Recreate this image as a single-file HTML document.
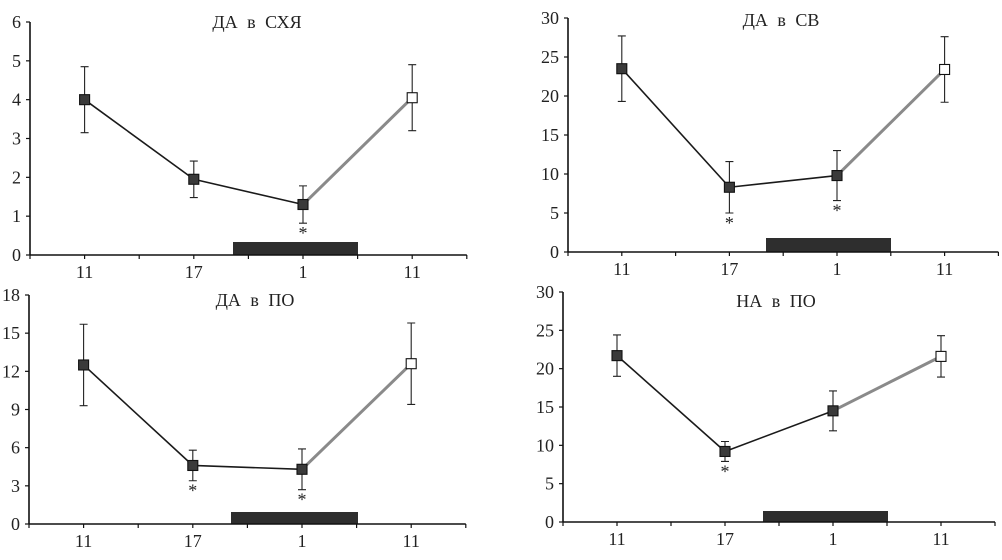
<!DOCTYPE html>
<html><head><meta charset="utf-8"><style>
body{margin:0;background:#fff;}
svg{display:block;font-family:"Liberation Serif","DejaVu Serif",serif;}
</style></head><body>
<svg id="c" width="1002" height="560"></svg>
<script>
const categories = ["11","17","1","11"];
const p1Values = [4.0, 1.95, 1.3, 4.05];
const p1Errors = [0.85, 0.47, 0.48, 0.85];
const p1Stars = [false, false, true, false];
const p1Ticks = [0,1,2,3,4,5,6];
const p2Values = [23.5, 8.3, 9.8, 23.4];
const p2Errors = [4.2, 3.3, 3.2, 4.2];
const p2Stars = [false, true, true, false];
const p2Ticks = [0,5,10,15,20,25,30];
const p3Values = [12.5, 4.6, 4.3, 12.6];
const p3Errors = [3.2, 1.2, 1.6, 3.2];
const p3Stars = [false, true, true, false];
const p3Ticks = [0,3,6,9,12,15,18];
const p4Values = [21.7, 9.2, 14.5, 21.6];
const p4Errors = [2.7, 1.3, 2.6, 2.7];
const p4Stars = [false, true, false, false];
const p4Ticks = [0,5,10,15,20,25,30];

const NS="http://www.w3.org/2000/svg";
const svg=document.getElementById('c');
function mk(tag,attrs,parent,text){const e=document.createElementNS(NS,tag);for(const k in attrs)e.setAttribute(k,attrs[k]);if(text!==undefined)e.textContent=text;(parent||svg).appendChild(e);return e;}

const panels=[
 {title:"ДА в СХЯ",name:"panel-da-shya",vals:p1Values,errs:p1Errors,stars:p1Stars,ticks:p1Ticks,ax:30,top:22,bot:255,step:54.6,bar:[233,358,242],tx:257,ty:28},
 {title:"ДА в СВ",name:"panel-da-sv",vals:p2Values,errs:p2Errors,stars:p2Stars,ticks:p2Ticks,ax:568,top:18,bot:252,step:53.8,bar:[766,891,238],tx:781,ty:26},
 {title:"ДА в ПО",name:"panel-da-po",vals:p3Values,errs:p3Errors,stars:p3Stars,ticks:p3Ticks,ax:29,top:295,bot:524,step:54.6,bar:[231,358,512],tx:255,ty:306},
 {title:"НА в ПО",name:"panel-na-po",vals:p4Values,errs:p4Errors,stars:p4Stars,ticks:p4Ticks,ax:563,top:292,bot:522,step:54.0,bar:[763,888,511],tx:776,ty:307}
];
panels.forEach(p=>{
 const g=mk('g',{});
 
 
 const ymax=p.ticks[p.ticks.length-1];
 const y=v=>p.bot-(v/ymax)*(p.bot-p.top);
 const x=i=>p.ax+p.step*(1+2*i);
 const xend=p.ax+p.step*8;
 const b=mk('rect',{x:p.bar[0],y:p.bar[2],width:p.bar[1]-p.bar[0],height:p.bot-p.bar[2],fill:'#2e2e2e'},g);
 
 
 const ya=mk('line',{x1:p.ax,y1:p.top,x2:p.ax,y2:p.bot,stroke:'#111','stroke-width':1.6},g);
 
 
 const xa=mk('line',{x1:p.ax,y1:p.bot,x2:xend,y2:p.bot,stroke:'#111','stroke-width':1.6},g);
 
 
 p.ticks.forEach(t=>{
  mk('line',{x1:p.ax-4,y1:y(t),x2:p.ax,y2:y(t),stroke:'#111','stroke-width':1.2},g);
  const tl=mk('text',{x:p.ax-9,y:y(t)+6,'text-anchor':'end','font-size':18,fill:'#222'},g,String(t));
  
  
 });
 for(let k=0;k<=8;k++){const xx=p.ax+p.step*k;mk('line',{x1:xx,y1:p.bot,x2:xx,y2:p.bot+4,stroke:'#111','stroke-width':1.2},g);}
 categories.forEach((c,i)=>{
  const tl=mk('text',{x:x(i),y:p.bot+23,'text-anchor':'middle','font-size':18,fill:'#222'},g,c);
  
  
 });
 const tt=mk('text',{x:p.tx,y:p.ty,'text-anchor':'middle','font-size':18,'word-spacing':5,fill:'#222'},g,p.title);
 
 
 p.vals.forEach((v,i)=>{
  const e=p.errs[i],xx=x(i);
  const eb=mk('path',{d:`M${xx},${y(v+e)}V${y(v-e)}M${xx-4},${y(v+e)}H${xx+4}M${xx-4},${y(v-e)}H${xx+4}`,stroke:'#222','stroke-width':1.1,fill:'none'},g);
  
  
 });
 for(let i=0;i<p.vals.length-1;i++){
  const last=i===p.vals.length-2;
  const ln=mk('line',{x1:x(i),y1:y(p.vals[i]),x2:x(i+1),y2:y(p.vals[i+1]),stroke:last?'#8a8a8a':'#1a1a1a','stroke-width':last?3:1.6},g);
  
  
 }
 p.vals.forEach((v,i)=>{
  const last=i===p.vals.length-1;
  const m=mk('rect',{x:x(i)-5,y:y(v)-5,width:10,height:10,fill:last?'#fff':'#3a3a3a',stroke:'#111','stroke-width':1.1},g);
  
  
  if(p.stars[i]){
   const s=mk('text',{x:x(i),y:y(v-p.errs[i])+16,'text-anchor':'middle','font-size':18,fill:'#222'},g,'*');
   
   
  }
 });
});
</script>
</body></html>
